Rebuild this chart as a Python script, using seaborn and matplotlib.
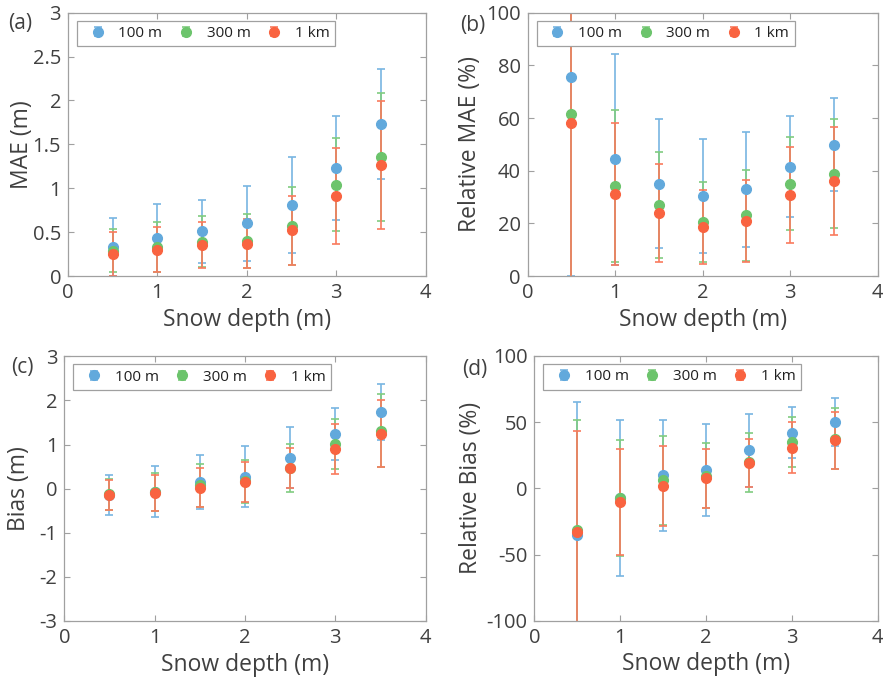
import numpy as np
import matplotlib
matplotlib.use('Agg')
import matplotlib.pyplot as plt
from matplotlib.legend_handler import HandlerErrorbar
from matplotlib.container import ErrorbarContainer
import seaborn as sns

# ==========================================
# DADOS
# ==========================================
depth = [0.5, 1.0, 1.5, 2.0, 2.5, 3.0, 3.5]
resolucoes = ['100 m', '300 m', '1 km']

# (a) MAE (m)
mae_100 = [0.33, 0.43, 0.51, 0.60, 0.81, 1.23, 1.73]
mae_100_sd = [0.33, 0.39, 0.36, 0.43, 0.55, 0.59, 0.63]
mae_300 = [0.29, 0.33, 0.39, 0.40, 0.57, 1.04, 1.36]
mae_300_sd = [0.25, 0.28, 0.29, 0.31, 0.44, 0.53, 0.73]
mae_1km = [0.25, 0.30, 0.35, 0.37, 0.52, 0.91, 1.26]
mae_1km_sd = [0.25, 0.26, 0.26, 0.28, 0.39, 0.55, 0.73]

# (b) Relative MAE (%)
rmae_100 = [75.4, 44.3, 35.1, 30.4, 32.9, 41.5, 49.9]
rmae_100_sd = [75.4, 40.1, 24.5, 21.8, 21.9, 19.2, 17.8]
rmae_300 = [61.6, 34.2, 27.0, 20.5, 23.0, 35.1, 38.9]
rmae_300_sd = [62.0, 28.7, 20.1, 15.3, 17.4, 17.6, 20.7]
rmae_1km = [58.2, 31.1, 23.9, 18.6, 20.9, 30.8, 36.2]
rmae_1km_sd = [60.0, 26.9, 18.5, 13.9, 15.4, 18.2, 20.5]

# (c) Bias (m)
bias_100 = [-0.15, -0.07, 0.145, 0.27, 0.70, 1.24, 1.74]
bias_100_sd = [0.45, 0.58, 0.61, 0.69, 0.69, 0.59, 0.63]
bias_300 = [-0.13, -0.07, 0.08, 0.17, 0.47, 1.02, 1.31]
bias_300_sd = [0.36, 0.43, 0.49, 0.49, 0.55, 0.57, 0.83]
bias_1km = [-0.146, -0.10, 0.025, 0.15, 0.46, 0.90, 1.24]
bias_1km_sd = [0.345, 0.40, 0.44, 0.45, 0.455, 0.575, 0.76]

# (d) Relative Bias (%)
rbias_100 = [-35.3, -7.3, 9.8, 14.0, 28.7, 42.0, 50.0]
rbias_100_sd = [100.8, 59.2, 41.8, 34.9, 27.7, 19.2, 18.0]
rbias_300 = [-31.7, -7.3, 6.0, 9.5, 19.6, 35.0, 37.5]
rbias_300_sd = [83.6, 43.8, 33.5, 24.5, 22.0, 19.0, 23.0]
rbias_1km = [-32.7, -10.4, 1.9, 7.6, 19.4, 30.7, 36.3]
rbias_1km_sd = [75.8, 40.0, 30.1, 22.5, 18.1, 19.1, 21.4]

# ==========================================
# ESTILO
# ==========================================
sns.set_theme(style='ticks')
plt.rcParams['font.family'] = ['Open Sans', 'DejaVu Sans']
plt.rcParams['axes.unicode_minus'] = False
cor_texto = '#404040'
cor_eixo = '#a0a0a0'
cores = sns.color_palette(['#62a9dc', '#6cc46c', '#f96340'])
cores_barra = sns.color_palette(['#78b5e2', '#80cc80', '#f97a5d'])

paineis = [
    # tag, ylabel, series, ylim, yticks, posição [l, b, w, h], label x, tag (x, y) em px
    ('(a)', 'MAE (m)', [(mae_100, mae_100_sd), (mae_300, mae_300_sd), (mae_1km, mae_1km_sd)],
     (0, 3), np.arange(0, 3.01, 0.5), [0.0770, 0.5959, 0.4051, 0.3855], -0.095, (8, 24)),
    ('(b)', 'Relative MAE (%)', [(rmae_100, rmae_100_sd), (rmae_300, rmae_300_sd), (rmae_1km, rmae_1km_sd)],
     (0, 100), np.arange(0, 101, 20), [0.5976, 0.5959, 0.3964, 0.3855], -0.131, (460, 25)),
    ('(c)', 'Bias (m)', [(bias_100, bias_100_sd), (bias_300, bias_300_sd), (bias_1km, bias_1km_sd)],
     (-3, 3), np.arange(-3, 3.01, 1), [0.0728, 0.0908, 0.4093, 0.3875], -0.092, (11, 368)),
    ('(d)', 'Relative Bias (%)', [(rbias_100, rbias_100_sd), (rbias_300, rbias_300_sd), (rbias_1km, rbias_1km_sd)],
     (-100, 100), np.arange(-100, 101, 50), [0.6051, 0.0912, 0.3889, 0.3876], -0.149, (462, 369)),
]

fig = plt.figure(figsize=(8.83, 6.83), dpi=100)

for tag, ylabel, series, ylim, yticks, pos, xlab, tag_xy in paineis:
    ax = fig.add_axes(pos)
    for (media, sd), nome, cor, cor_b in zip(series, resolucoes, cores, cores_barra):
        ax.errorbar(depth, media, yerr=sd, fmt='o', color=cor, ms=7, mec=cor,
                    ecolor=cor_b, elinewidth=1.2, capsize=2.6, capthick=1.2, label=nome)
    ax.set_xlim(0, 4)
    ax.set_ylim(*ylim)
    ax.set_xticks(range(0, 5))
    ax.set_yticks(yticks)
    ax.set_yticklabels([f'{v:g}' for v in yticks])
    ax.tick_params(direction='in', length=4, width=0.8, colors=cor_eixo,
                   labelcolor=cor_texto, labelsize=14.5, top=True, right=True, pad=5)
    for sp in ax.spines.values():
        sp.set_color(cor_eixo)
        sp.set_linewidth(0.9)
        sp.set_visible(True)
    ax.set_xlabel('Snow depth (m)', fontsize=16.5, color=cor_texto)
    ax.set_ylabel(ylabel, fontsize=16.5, color=cor_texto)
    ax.yaxis.set_label_coords(xlab, 0.5)
    ax.xaxis.set_label_coords(0.5, -0.12)
    alt_px = pos[3] * 683
    larg_px = pos[2] * 883
    leg = ax.legend(loc='upper left', bbox_to_anchor=(9 / larg_px, 1 - 8 / alt_px),
                    borderaxespad=0, ncol=3, fontsize=11, frameon=True, fancybox=False,
                    handlelength=2.0, handletextpad=0.35, columnspacing=0.55,
                    borderpad=0.35, edgecolor=cor_eixo, framealpha=1,
                    handler_map={ErrorbarContainer: HandlerErrorbar(yerr_size=0.3)})
    leg.get_frame().set_linewidth(0.9)
    for t in leg.get_texts():
        t.set_color('#202020')
    fig.text(tag_xy[0] / 883, 1 - tag_xy[1] / 683, tag, fontsize=15,
             color=cor_texto, ha='left', va='center')

fig.savefig('out.png', dpi=100)
